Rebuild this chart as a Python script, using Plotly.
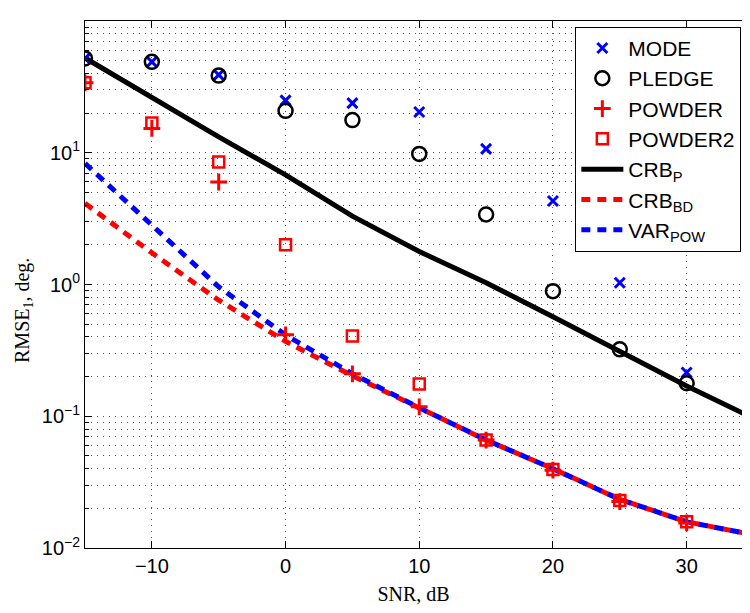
import plotly.graph_objects as go

snr = [-15, -10, -5, 0, 5, 10, 15, 20, 25, 30, 35]

mode = [52, 49, 39, 25, 23.8, 20.4, 10.7, 4.3, 1.03, 0.215, 0.099]
pledge = [52, 49, 38.5, 20.8, 17.7, 9.8, 3.4, 0.89, 0.322, 0.178, 0.097]
powder = [34, 15.3, 6.0, 0.415, 0.21, 0.118, 0.066, 0.039, 0.0225, 0.0155, 0.0125]
powder2 = [34, 16.8, 8.5, 2.0, 0.406, 0.176, 0.066, 0.0395, 0.0229, 0.0158, 0.0125]
crb_p = [52.4, 26, 13.2, 6.8, 3.3, 1.78, 1.03, 0.57, 0.312, 0.170, 0.0965]
crb_bd = [4.13, 1.74, 0.76, 0.37, 0.203, 0.116, 0.066, 0.040, 0.0234, 0.0158, 0.0126]
var_pow = [8.3, 2.83, 0.96, 0.414, 0.21, 0.116, 0.066, 0.040, 0.0234, 0.0158, 0.0126]

y_tickvals = [0.01, 0.1, 1, 10, 100]
y_ticktext = ["10<sup>−2</sup>", "10<sup>−1</sup>", "10<sup>0</sup>", "10<sup>1</sup>", "10<sup>2</sup>"]
y_minor = [m * 10 ** e for e in range(-2, 2) for m in range(2, 10)]
x_tickvals = [-10, 0, 10, 20, 30]

SANS = "Liberation Sans, Arial, sans-serif"
SERIF = "Liberation Serif, Times New Roman, serif"
GRID = "#555555"
GDASH = "1px,5px"

fig = go.Figure()

fig.add_trace(go.Scatter(x=snr, y=crb_p, mode="lines", name="CRB<sub>P</sub>",
                         line=dict(color="black", width=5), legendrank=5))
fig.add_trace(go.Scatter(x=snr, y=crb_bd, mode="lines", name="CRB<sub>BD</sub>",
                         line=dict(color="#ff0000", width=5, dash="9px,7px"), legendrank=6))
fig.add_trace(go.Scatter(x=snr, y=var_pow, mode="lines", name="VAR<sub>POW</sub>",
                         line=dict(color="#0000ff", width=5, dash="9px,7px"), legendrank=7))

fig.add_trace(go.Scatter(x=snr, y=mode, mode="markers", name="MODE",
                         marker=dict(symbol="x-thin", size=10, color="#0000ff",
                                     line=dict(color="#0000ff", width=3)), legendrank=1))
fig.add_trace(go.Scatter(x=snr, y=pledge, mode="markers", name="PLEDGE",
                         marker=dict(symbol="circle-open", size=14, color="black",
                                     line=dict(color="black", width=2.5)), legendrank=2))
fig.add_trace(go.Scatter(x=snr, y=powder, mode="markers", name="POWDER",
                         marker=dict(symbol="cross-thin", size=12, color="#ff0000",
                                     line=dict(color="#ff0000", width=3)), legendrank=3))
fig.add_trace(go.Scatter(x=snr, y=powder2, mode="markers", name="POWDER2",
                         marker=dict(symbol="square-open", size=11, color="#ff0000",
                                     line=dict(color="#ff0000", width=2.5)), legendrank=4))

fig.update_layout(
    width=734, height=597,
    margin=dict(l=77, r=0, t=13, b=57),
    paper_bgcolor="white", plot_bgcolor="white",
    font=dict(family=SANS, size=20, color="black"),
    showlegend=True,
    legend=dict(x=0.999, xanchor="right", y=0.989, yanchor="top",
                bgcolor="white", bordercolor="black", borderwidth=1,
                font=dict(family=SANS, size=21, color="black"),
                itemwidth=42, tracegroupgap=0),
    xaxis=dict(range=[-15, 34.14], tickvals=x_tickvals, ticks="inside", ticklen=7,
               tickcolor="black", showline=True, linecolor="black", linewidth=1,
               mirror="ticks", showgrid=True, gridcolor=GRID, griddash=GDASH,
               gridwidth=1, zeroline=False,
               tickfont=dict(family=SANS, size=20),
               title=dict(text="SNR, dB", font=dict(family=SERIF, size=20), standoff=14)),
    yaxis=dict(type="log", range=[-2, 2], tickvals=y_tickvals, ticktext=y_ticktext,
               ticks="inside", ticklen=7, tickcolor="black", showline=True,
               linecolor="black", linewidth=1, mirror=False,
               showgrid=True, gridcolor=GRID, griddash=GDASH, gridwidth=1,
               zeroline=False, tickfont=dict(family=SANS, size=20),
               minor=dict(tickvals=y_minor, ticks="inside", ticklen=4, tickcolor="black",
                          showgrid=True, gridcolor=GRID, griddash=GDASH, gridwidth=1)),
    annotations=[dict(text="RMSE<sub>1</sub>, deg.", textangle=-90, xref="paper", yref="paper",
                      x=-0.0944, y=0.4516, xanchor="center", yanchor="middle", showarrow=False,
                      font=dict(family=SERIF, size=20, color="black"))],
)

fig.write_html("out.html")
